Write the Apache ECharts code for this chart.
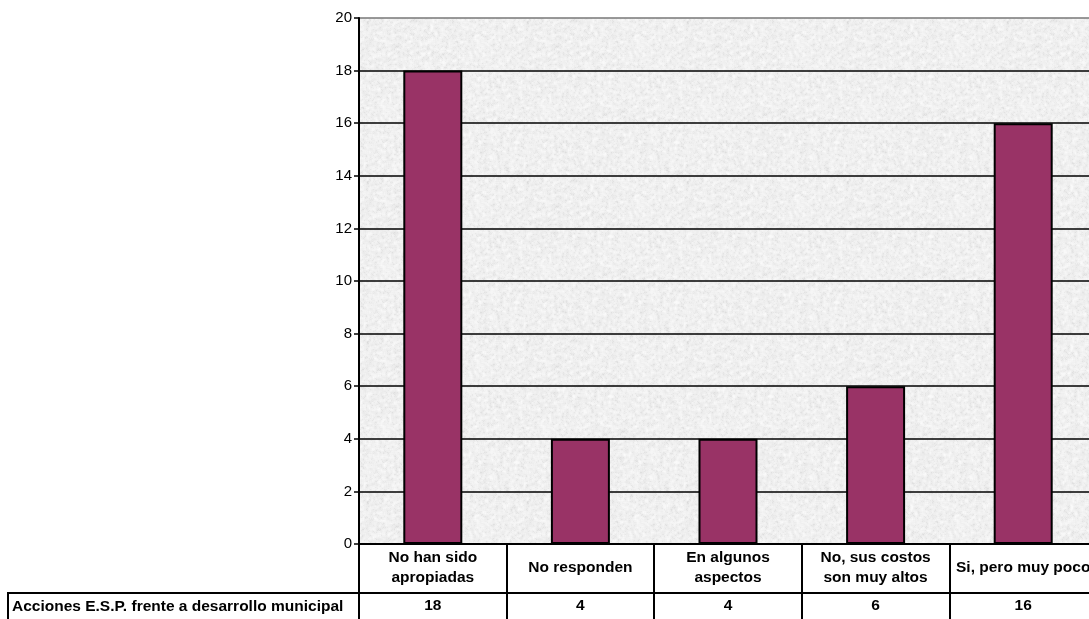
<!DOCTYPE html>
<html>
<head>
<meta charset="utf-8">
<script src="https://cdn.jsdelivr.net/npm/echarts@6/dist/echarts.min.js"></script>
<style>
html,body{margin:0;padding:0;background:#fff;overflow:hidden;width:1089px;height:619px;}
#chart{width:1110px;height:619px;}
</style>
</head>
<body>
<div id="chart"></div>
<script>
const categories = ['No han sido\napropiadas', 'No responden', 'En algunos\naspectos', 'No, sus costos\nson muy altos', 'Si, pero muy poco'];
const values = [18, 4, 4, 6, 16];
const rowLabel = 'Acciones E.S.P. frente a desarrollo municipal';
const yMin = 0, yMax = 20, yInterval = 2;

const FONT = "'Liberation Sans', Arial, sans-serif";

// deterministic speckled texture for plot background
function makeTexture() {
  const c = document.createElement('canvas');
  c.width = 160; c.height = 160;
  const ctx = c.getContext('2d');
  const img = ctx.createImageData(160, 160);
  let s = 12345;
  function rnd() { s = (s * 1103515245 + 12345) & 0x7fffffff; return s / 0x7fffffff; }
  const base = new Float32Array(160 * 160);
  for (let i = 0; i < base.length; i++) base[i] = rnd();
  for (let y = 0; y < 160; y++) {
    for (let x = 0; x < 160; x++) {
      let sum = 0;
      for (let dy = -1; dy <= 1; dy++) for (let dx = -1; dx <= 1; dx++) {
        sum += base[((y + dy + 160) % 160) * 160 + ((x + dx + 160) % 160)];
      }
      const n = sum / 9;
      const v = Math.round(240 - (n - 0.5) * 36 - (base[y * 160 + x] > 0.92 ? 8 : 0));
      const k = (y * 160 + x) * 4;
      img.data[k] = v; img.data[k + 1] = v; img.data[k + 2] = v; img.data[k + 3] = 255;
    }
  }
  ctx.putImageData(img, 0, 0);
  return c;
}

const splitColors = [];
for (let v = yMin; v <= yMax; v += yInterval) splitColors.push(v === yMax ? '#777777' : '#000000');

const chart = echarts.init(document.getElementById('chart'), null, {renderer: 'canvas'});
chart.setOption({
  animation: false,
  backgroundColor: '#ffffff',
  grid: {
    left: 359, top: 18, width: 738, height: 526,
    show: true,
    borderWidth: 0,
    backgroundColor: {image: makeTexture(), repeat: 'repeat'}
  },
  xAxis: [{
    type: 'category',
    data: categories,
    position: 'bottom',
    axisLine: {show: true, lineStyle: {color: '#000', width: 2}},
    axisTick: {show: true, alignWithLabel: false, length: 80, lineStyle: {color: '#000', width: 2}},
    axisLabel: {
      interval: 0, margin: 24, verticalAlign: 'middle',
      fontFamily: FONT, fontSize: 15.5, fontWeight: 'bold', color: '#000', lineHeight: 20
    },
    splitLine: {show: false}
  }, {
    type: 'category',
    data: categories,
    position: 'bottom',
    offset: 49,
    axisLine: {show: true, lineStyle: {color: '#000', width: 2}},
    axisTick: {show: false},
    axisLabel: {
      interval: 0, margin: 13, verticalAlign: 'middle',
      fontFamily: FONT, fontSize: 15.5, fontWeight: 'bold', color: '#000',
      formatter: function (v, i) { return String(values[i]); }
    },
    splitLine: {show: false}
  }],
  yAxis: {
    type: 'value',
    min: yMin, max: yMax, interval: yInterval,
    axisLine: {show: true, lineStyle: {color: '#000', width: 2}},
    axisTick: {show: true, length: 5, lineStyle: {color: '#000', width: 1.5}},
    axisLabel: {margin: 7, fontFamily: FONT, fontSize: 15, color: '#000'},
    splitLine: {show: true, lineStyle: {color: splitColors, width: 1.5}}
  },
  series: [{
    type: 'bar',
    xAxisIndex: 0,
    data: values,
    barWidth: 59,
    itemStyle: {color: '#993366', borderColor: '#000', borderWidth: 2}
  }],
  graphic: [{
    type: 'rect',
    shape: {x: 8, y: 593, width: 351, height: 40},
    style: {fill: '#fff', stroke: '#000', lineWidth: 2},
    z: 10
  }, {
    type: 'text',
    x: 12, y: 607,
    style: {
      text: rowLabel, fontFamily: FONT, fontSize: 15.5, fontWeight: 'bold',
      fill: '#000', verticalAlign: 'middle', align: 'left'
    },
    z: 11
  }]
});
</script>
</body>
</html>
